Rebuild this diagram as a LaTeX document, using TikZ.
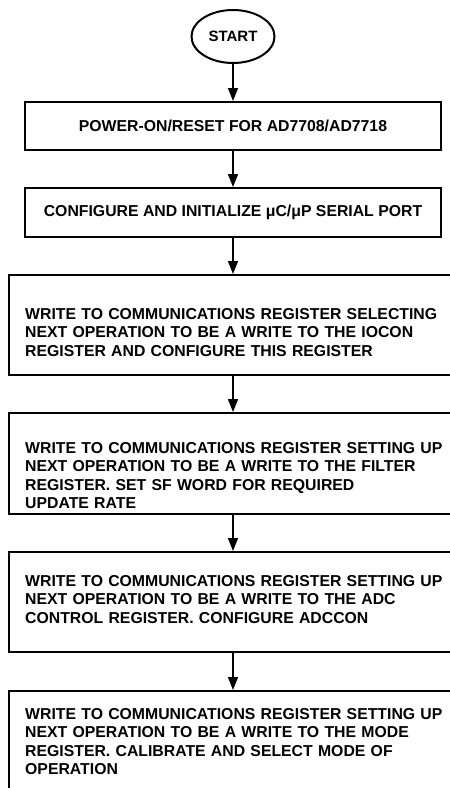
\documentclass[tikz,border=0pt]{standalone}
\usepackage{fontspec}
\setmainfont{Liberation Sans}
\usetikzlibrary{arrows.meta,shapes.geometric}
\tikzset{
  every node/.style={font=\bfseries\fontsize{15.8}{18.5}\selectfont},
  smallbox/.style={draw,line width=2pt,minimum width=416pt,minimum height=48pt,inner sep=0pt},
  bigbox/.style={draw,line width=2pt,minimum width=448pt,inner sep=0pt},
  txt/.style={align=left,text width=425pt,inner sep=0pt,anchor=base west},
  startnode/.style={draw,ellipse,line width=2pt,minimum width=83pt,minimum height=53pt,inner sep=0pt,font=\bfseries\fontsize{15}{18}\selectfont},
  conn/.style={line width=1.5pt,-{Triangle[length=13pt,width=10pt]}}
}
\begin{document}
\begin{tikzpicture}[x=1pt,y=-1pt]
\useasboundingbox (0,0) rectangle (450,788);
\clip (0,0) rectangle (450,788);
\node[startnode] (start) at (233,36.5) {START};
\node[smallbox] (b1) at (233,126) {POWER-ON/RESET FOR AD7708/AD7718};
\node[smallbox,minimum height=49pt] (b2) at (233,212.5) {CONFIGURE AND INITIALIZE μC/μP SERIAL PORT};
\node[bigbox,minimum height=100pt] (b3) at (233,325) {};
\node[txt] (t3) at (25,319) {WRITE TO COMMUNICATIONS REGISTER SELECTING\\NEXT OPERATION TO BE A WRITE TO THE IOCON\\REGISTER AND CONFIGURE THIS REGISTER};
\node[bigbox,minimum height=101pt] (b4) at (233,463.5) {};
\node[txt] (t4) at (25,453) {WRITE TO COMMUNICATIONS REGISTER SETTING UP\\NEXT OPERATION TO BE A WRITE TO THE FILTER\\REGISTER. SET SF WORD FOR REQUIRED\\UPDATE RATE};
\node[bigbox,minimum height=100pt] (b5) at (233,602) {};
\node[txt] (t5) at (25,586) {WRITE TO COMMUNICATIONS REGISTER SETTING UP\\NEXT OPERATION TO BE A WRITE TO THE ADC\\CONTROL REGISTER. CONFIGURE ADCCON};
\node[bigbox,minimum height=120pt] (b6) at (233,751) {};
\node[txt] (t6) at (25,719) {WRITE TO COMMUNICATIONS REGISTER SETTING UP\\NEXT OPERATION TO BE A WRITE TO THE MODE\\REGISTER. CALIBRATE AND SELECT MODE OF\\OPERATION};
\draw[conn] (start) -- (b1);
\draw[conn] (b1) -- (b2);
\draw[conn] (b2) -- (b3);
\draw[conn] (b3) -- (b4);
\draw[conn] (b4) -- (b5);
\draw[conn] (b5) -- (b6);
\end{tikzpicture}
\end{document}
